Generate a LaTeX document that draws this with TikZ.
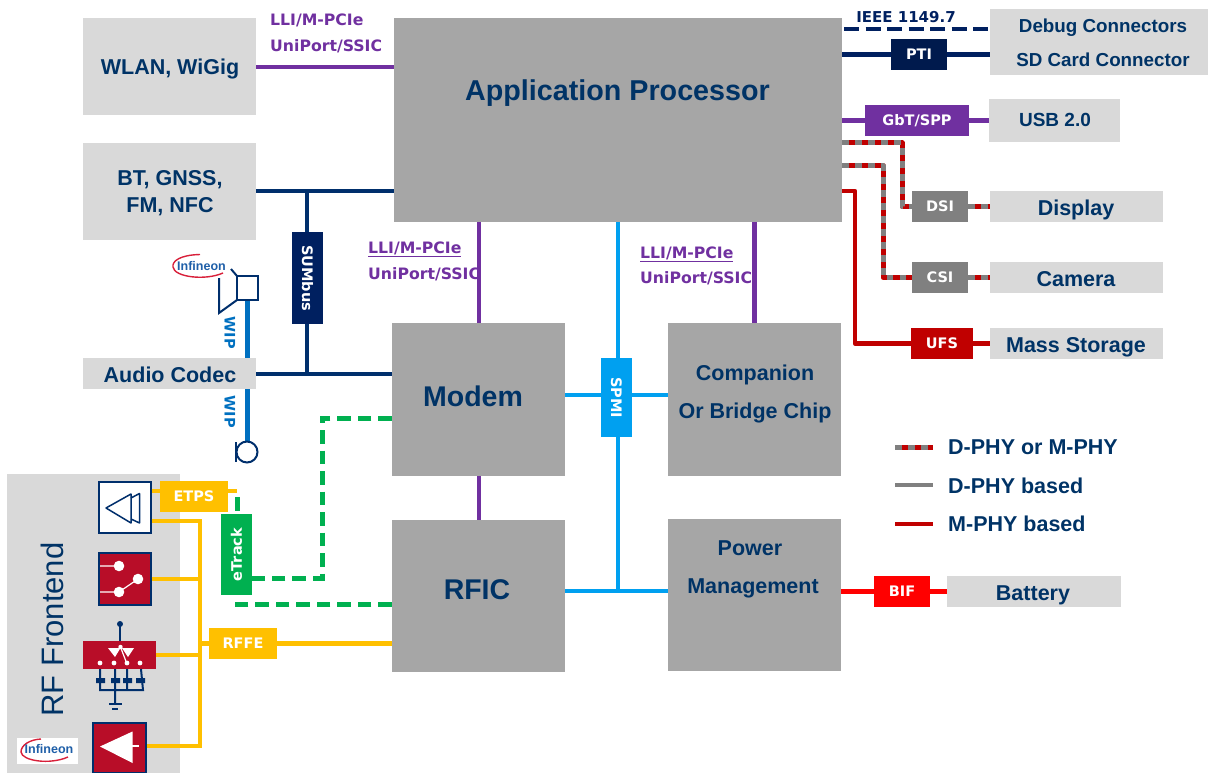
\documentclass[tikz,border=0pt]{standalone}
\usepackage{fontspec}
\setmainfont{Liberation Sans}
\newfontfamily\vf{DejaVu Sans}
\usetikzlibrary{calc}
\definecolor{navy}{HTML}{002F6C}
\definecolor{dnavy}{HTML}{002060}
\definecolor{inktext}{HTML}{003366}
\definecolor{lgray}{HTML}{D9D9D9}
\definecolor{mgray}{HTML}{A6A6A6}
\definecolor{dgray}{HTML}{808080}
\definecolor{purp}{HTML}{7030A0}
\definecolor{yel}{HTML}{FFC000}
\definecolor{grn}{HTML}{00B050}
\definecolor{mred}{HTML}{C00000}
\definecolor{ired}{HTML}{B80D28}
\definecolor{sky}{HTML}{00A0F0}
\definecolor{wip}{HTML}{0070C0}
\definecolor{logoblue}{HTML}{1F5FA8}
\definecolor{logored}{HTML}{D8203A}
\newcommand\fs[1]{\fontsize{#1}{#1}\selectfont}
\newcommand\bx[7]{%
  \pgfmathsetmacro\bxw{#4-#2}\pgfmathsetmacro\bxh{#5-#3}%
  \node[fill=#6,inner sep=0pt,minimum width=\bxw pt,minimum height=\bxh pt,#7] (#1) at ({(#2+#4)/2},{(#3+#5)/2})}
\tikzset{
  capt/.style={text=inktext,inner sep=0pt,text height={0.72*#1 pt},text depth=0pt,font=\bfseries\fs{#1}},
  capt/.default=21.5,
  tag/.style={text=white,font=\vf\bfseries\fs{14.5},inner sep=0pt},
  purl/.style={text=purp,font=\vf\bfseries\fs{15.7},inner sep=0pt},
  wire/.style={line width=4.5pt},
  navyw/.style={wire,draw=navy},
  purw/.style={wire,draw=purp},
  skyw/.style={wire,draw=sky},
  yelw/.style={wire,draw=yel},
  redw/.style={wire,draw=mred,line join=round},
  phy/.style={line width=5pt,draw=mred,line join=round,postaction={draw=dgray,dash pattern=on 6.5pt off 6.5pt}},
  grnw/.style={line width=5pt,draw=grn,dash pattern=on 13.5pt off 7pt},
  wipw/.style={line width=5pt,draw=wip},
  icon/.style={draw=navy,line width=2pt},
}
\begin{document}
\begin{tikzpicture}[x=1pt,y=-1pt]
\useasboundingbox (0,0) rectangle (1208,773);
% RF frontend panel
\bx{rfpanel}{7}{474}{180}{773}{lgray}{}{};
\node[rotate=90,text=inktext,font=\fs{31}] (rflabel) at (52,629.5) {RF Frontend};

% main boxes
\bx{wlan}{83}{18}{256}{115}{lgray}{}{};
\bx{bt}{83}{143}{256}{240}{lgray}{}{};
\bx{codec}{83}{358}{256}{389}{lgray}{}{};
\bx{ap}{394}{18}{842}{222}{mgray}{}{};
\bx{modem}{392}{323}{565}{476}{mgray}{}{};
\bx{comp}{668}{323}{841}{476}{mgray}{}{};
\bx{rfic}{392}{520}{565}{672}{mgray}{}{};
\bx{power}{668}{519}{841}{671}{mgray}{}{};
\bx{debug}{990}{9}{1208}{75}{lgray}{}{};
\bx{usb}{989}{99}{1120}{142}{lgray}{}{};
\bx{disp}{990}{191}{1163}{222}{lgray}{}{};
\bx{cam}{990}{262}{1163}{293}{lgray}{}{};
\bx{mass}{990}{328}{1163}{359}{lgray}{}{};
\bx{batt}{947}{576}{1121}{607}{lgray}{}{};

% box labels
\node[capt] (wlanl) at (170,67) {WLAN, WiGig};
\node[capt] (btl1) at (170,178) {BT, GNSS,};
\node[capt] (btl2) at (170,205) {FM, NFC};
\node[capt] (codecl) at (170,375) {Audio Codec};
\node[capt=28.7] (apl) at (617.5,90) {Application Processor};
\node[capt=28.5] (modeml) at (473,396) {Modem};
\node[capt=28.5] (rficl) at (477,589) {RFIC};
\node[capt] (compl1) at (755,373) {Companion};
\node[capt] (compl2) at (755,411) {Or Bridge Chip};
\node[capt] (powl1) at (750,548) {Power};
\node[capt] (powl2) at (753,586) {Management};
\node[capt=18.8] (debl1) at (1103,26) {Debug Connectors};
\node[capt=18.8] (debl2) at (1103,60) {SD Card Connector};
\node[capt=19] (usbl) at (1055,120) {USB 2.0};
\node[capt] (displ) at (1076,208) {Display};
\node[capt] (caml) at (1076,279) {Camera};
\node[capt] (massl) at (1076,345) {Mass Storage};
\node[capt] (battl) at (1033,593) {Battery};

% tag boxes
\bx{pti}{891}{39}{947}{70}{dnavy!80!black}{tag}{PTI};
\bx{gbt}{865}{105}{969}{136}{purp}{tag}{GbT/SPP};
\bx{dsi}{912}{191}{968}{222}{dgray}{tag}{DSI};
\bx{csi}{912}{262}{968}{293}{dgray}{tag}{CSI};
\bx{ufs}{911}{328}{973}{359}{mred}{tag}{UFS};
\bx{bif}{874}{576}{930}{607}{red}{tag}{BIF};
\bx{sum}{292}{232}{323}{324}{dnavy}{}{};
\node[tag,rotate=-90] (suml) at (sum) {SUMbus};
\bx{spmi}{601}{358}{632}{437}{sky}{}{};
\node[tag,rotate=-90] (spmil) at (spmi) {SPMI};
\bx{etps}{160}{481}{228}{512}{yel}{tag}{ETPS};
\bx{etrack}{221}{514}{252}{595}{grn}{}{};
\node[tag,rotate=90] (etl) at (etrack) {eTrack};
\bx{rffe}{209}{628}{277}{659}{yel}{tag}{RFFE};

% icons as nodes
\bx{pa1}{99}{482}{151}{533}{white}{draw=navy,line width=1.4pt}{};
\bx{sw}{99}{553}{151}{605}{ired}{draw=navy,line width=1.4pt}{};
\bx{asw}{83}{641}{156}{669}{ired}{}{};
\bx{pa2}{93}{723}{146}{773}{ired}{draw=navy,line width=1.4pt}{};

% coordinates for junctions
\coordinate (sumtop) at (307,191);
\coordinate (sumbot) at (307,374);
\coordinate (yt) at (200,521);
\coordinate (yb) at (200,746);
\coordinate (spmijoin) at (618,591);
\coordinate (modemright) at (565,395);
\coordinate (compleft) at (668,395);

% connectors
\draw[purw] (wlan.east |- 0,67) -- (ap.west |- 0,67);
\draw[navyw] (bt.east |- sumtop) -- (ap.west |- sumtop);
\draw[navyw] (sumtop) -- (sum.north -| sumtop);
\draw[navyw] (sum.south -| sumtop) -- (sumbot);
\draw[navyw] (codec.east |- sumbot) -- (modem.west |- sumbot);
\draw[purw] (ap.south -| 479,0) -- (modem.north -| 479,0);
\draw[purw] (modem.south -| 479,0) -- (rfic.north -| 479,0);
\draw[purw] (ap.south -| comp.north) -- (comp.north);
\draw[skyw] (ap.south -| 618,0) -- (spmi.north -| 618,0);
\draw[skyw] (spmi.south -| 618,0) -- (spmijoin);
\draw[skyw] (modemright) -- (spmi.west |- modemright);
\draw[skyw] (spmi.east |- compleft) -- (compleft);
\draw[skyw] (rfic.east |- spmijoin) -- (power.west |- spmijoin);
\draw[redw,draw=red] (power.east |- bif) -- (bif.west);
\draw[redw,draw=red] (bif.east) -- (batt.west);

\draw[wire,draw=dnavy,dash pattern=on 15pt off 6.5pt] (844,29) -- (debug.west |- 0,29);
\draw[wire,draw=dnavy] (ap.east |- pti) -- (pti.west);
\draw[wire,draw=dnavy] (pti.east) -- (debug.west |- pti);
\draw[purw] (ap.east |- gbt) -- (gbt.west);
\draw[purw] (gbt.east) -- (usb.west |- gbt);
\draw[phy] (ap.east |- 0,143) -- (902,143) |- (dsi.west);
\draw[phy] (dsi.east) -- (disp.west);
\draw[phy] (ap.east |- 0,166) -- (883,166) |- (csi.west);
\draw[phy] (csi.east) -- (cam.west);
\draw[redw] (ap.east |- 0,191) -- (855,191) |- (ufs.west);
\draw[redw] (ufs.east) -- (mass.west);

% legend
\coordinate (l1a) at (895,447); \coordinate (l1b) at (933,447);
\coordinate (l2a) at (895,485); \coordinate (l2b) at (933,485);
\coordinate (l3a) at (895,524); \coordinate (l3b) at (933,524);
\draw[phy] (l1a) -- (l1b);
\draw[wire,draw=dgray] (l2a) -- (l2b);
\draw[redw] (l3a) -- (l3b);
\node[capt,anchor=west] (lt1) at (948,447) {D-PHY or M-PHY};
\node[capt,anchor=west] (lt2) at (948,486) {D-PHY based};
\node[capt,anchor=west] (lt3) at (948,524) {M-PHY based};

% text labels
\node[text=dnavy,font=\vf\bfseries\fs{15},inner sep=0pt] (ieee) at (906,17) {IEEE 1149.7};
\node[purl,anchor=west] (p1a) at (270,20) {LLI/M-PCIe};
\node[purl,anchor=west] (p1b) at (270,46) {UniPort/SSIC};
\node[purl,anchor=west] (p2a) at (368,249) {\underline{LLI/M-PCIe}};
\node[purl,anchor=west] (p2b) at (368,274) {UniPort/SSIC};
\node[purl,anchor=west] (p3a) at (640,254) {\underline{LLI/M-PCIe}};
\node[purl,anchor=west] (p3b) at (640,278) {UniPort/SSIC};

% speaker + mic, WIP
\coordinate (spkb) at (247,300);
\coordinate (micc) at (247,452);
\draw[wipw] (spkb) -- (codec.north -| spkb);
\draw[wipw] (codec.south -| micc) -- (247,442);
\draw[icon] (237,276) rectangle (258,300);
\draw[icon] (231,269) -- (237,276) (237,300) -- (219,313) -- (219,278);
\draw[icon,fill=white] (micc) circle (10.5pt);
\draw[icon] (236,442) -- (236,462);
\node[text=wip,font=\vf\bfseries\fs{14.5},rotate=-90,inner sep=0pt] (wip1) at (230,333) {WIP};
\node[text=wip,font=\vf\bfseries\fs{14.5},rotate=-90,inner sep=0pt] (wip2) at (230,412) {WIP};

% RF frontend connectors
\draw[yelw] (pa1.east |- 0,491) -- (etps.west |- 0,491);
\draw[yelw] (etps.east |- 0,491) -- (237,491);
\draw[yelw] (pa1.east |- yt) -- (yt) -- (yb) -- (pa2.east |- yb);
\draw[yelw] (sw.east) -- (sw.east -| yt);
\draw[yelw] (asw.east) -- (asw.east -| yt);
\draw[yelw] (yt |- rffe) -- (rffe.west);
\draw[yelw] (rffe.east) -- (rfic.west |- rffe);
\draw[grnw] (237,497) -- (etrack.north -| 237,0);
\draw[grnw] (modem.west |- 0,418) -- (322,418) -- (322,578) -- (etrack.east |- 0,578);
\draw[grnw] (rfic.west |- 0,604) -- (237,604) -- (etrack.south -| 237,0);

% PA 1 icon
\draw[icon,line width=1.5pt,line join=round] (106,508) -- (131,494) -- (131,523) -- cycle;
\draw[icon,line width=1.5pt,line join=round] (131,498) -- (139.5,493.5) -- (139.5,523) -- (131,519);
% switch icon
\draw[white,line width=1.2pt] (100,566) -- (118,566) (100,592) -- (119,592) -- (138,579);
\fill[white] (119,566) circle (5.3pt) (119,592) circle (5.3pt) (138,579) circle (5.3pt);
% antenna switch icon
\draw[icon] (120,624) -- (120,641);
\fill[navy] (120,624) circle (3pt);
\fill[white] (108,648) -- (120.5,648) -- (115,657) -- cycle (122,648) -- (134,648) -- (128,657) -- cycle;
\draw[white,line width=1.2pt] (120.5,647) -- (127,664);
\fill[white] (120.5,647) circle (2.2pt) (100,663) circle (2.4pt) (114,663) circle (2.4pt) (127,663) circle (2.4pt) (140,663) circle (2.4pt);
\draw[icon] (100,669) -- (100,690) -- (143,690) -- (141,669) (115,669) -- (115,703) (127,669) -- (127,690);
\fill[navy] (96,678) rectangle (105,683) (111,678) rectangle (120,683) (123,678) rectangle (132,683) (136,678) rectangle (145,683);
\draw[icon] (109,704) -- (122,704);
\draw[icon] (112,708.5) -- (118,708.5);
% PA 2 icon
\fill[white] (100,746.5) -- (132.5,731.5) -- (132.5,763) -- cycle;
\draw[white,line width=1.2pt] (132,746) -- (139,746);

% Infineon logos
\draw[logored,line width=1.4pt] (200,254.5) .. controls (180,255) and (172,261) .. (173,267) .. controls (174,277) and (205,281) .. (223,273);
\node[text=logoblue,font=\bfseries\fs{12.5},inner sep=0pt] (lg1) at (201.5,266) {Infineon};
\bx{lgbg}{17}{738}{78}{764}{white}{}{};
\draw[logored,line width=1.4pt] (41,739) .. controls (30,739.5) and (21,745) .. (21,752) .. controls (22,761) and (50,765) .. (68,757);
\node[text=logoblue,font=\bfseries\fs{12.5},inner sep=0pt] (lg2) at (49,749.5) {Infineon};
\end{tikzpicture}
\end{document}
